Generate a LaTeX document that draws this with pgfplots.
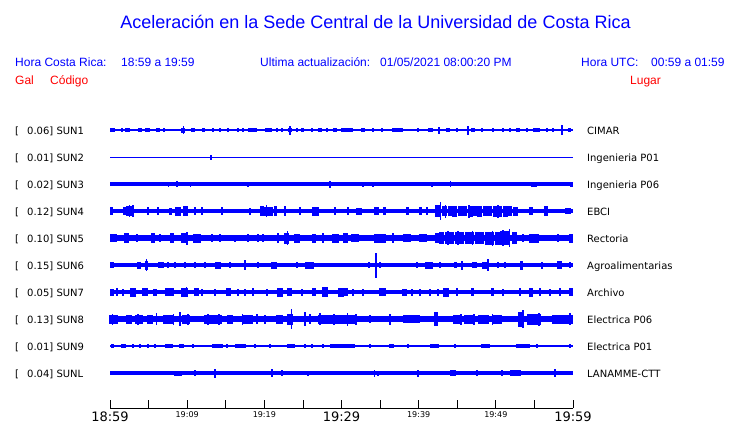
\documentclass[border=0pt]{standalone}
\usepackage{pgfplots}
\pgfplotsset{compat=1.18}
\usepackage{pgfplotstable}
\usepackage{fontspec}
\setmainfont{Liberation Sans}
\newfontfamily\dv{DejaVu Sans}
\definecolor{pblue}{RGB}{0,0,255}
\definecolor{pred}{RGB}{255,0,0}

\pgfdeclareplotmark{burst}{%
  \pgfpathrectangle{\pgfpoint{-\hw}{-\ampl}}{\pgfpoint{2*\hw}{2*\ampl}}%
  \pgfusepath{fill}}

% x = minutes after 18:59, a = half amplitude (px), w = width (px)
\pgfplotstableread{
x a w
0.3 1.8 5
1.6 1.8 2
2.3 2.2 5
3.9 1.8 4
4.8 1.8 5
6.2 2.2 4
7.0 1.8 2
9.5 2.5 4
9.5 4 1.5
10.8 2.2 4
12.1 2.2 3
13.3 1.8 2
14.3 1.8 2
15.3 1.8 2
16.6 1.8 2
17.2 1.8 2
18.5 2.2 9
20.5 2.2 7
21.6 1.8 2
22.3 1.8 2
23.3 2.2 4
23.3 4.5 1.5
24.2 1.8 2
25.0 1.8 3
26.2 1.8 2
27.2 2.2 4
28.1 1.8 2
29.2 2.2 4
30.1 1.8 2
30.8 2.2 11
32.8 2.2 4
34.1 1.8 2
35.2 1.8 2
37.2 2.2 11
39.9 1.8 2
41.5 1.8 5
42.6 3.5 2
43.8 2.2 4
45.0 1.8 2
46.4 4.5 1.5
47.0 2.2 4
48.2 2.2 2
49.6 1.8 2
50.9 1.8 2
51.8 1.8 2
52.9 2.2 4
54.0 1.8 2
55.3 2.2 7
56.6 1.8 2
57.4 1.8 2
58.6 5.3 1.5
59.6 2.2 3
}\tA
\pgfplotstableread{
x a w
13.1 2.5 1.5
}\tB
\pgfplotstableread{
x a w
7.6 2.5 1.5
8.7 3 1.5
10.4 2.5 1.5
17.9 2.5 1.5
28.5 3.5 1.5
32.8 2.5 1.5
34.1 2.5 1.5
41.7 2.5 1.5
44.1 3 1.5
55.0 2.5 6
59.8 2.5 3
}\tC
\pgfplotstableread{
x a w
0.2 4 3
1.9 4 4
2.5 6 1.5
2.6 5 8
3.0 6 1.5
4.9 4 2
6.2 4 2
7.9 3.5 3
8.8 4.5 6
9.8 5 5
11.0 4 2
11.9 4 2
14.5 4 2
18.1 3.5 2
19.7 5 4
20.3 6 1.5
20.5 4.5 10
21.4 5 3
22.7 5 2
24.6 4 2
26.6 4.5 7
29.2 4 2
30.8 4 2
32.3 3.5 6
34.6 4 5
35.6 4 3
38.6 4 3
40.2 4 3
41.1 4 2
42.4 6 5
42.8 8.7 1.5
43.4 5 5
43.5 6.5 1.5
44.1 5 5
44.7 5.5 5
45.4 5 5
46.0 5 5
46.7 5.5 5
46.5 6.5 1.5
47.3 5 5
47.9 5.5 5
48.6 5 5
49.2 5 5
49.9 5.5 5
50.5 5.5 5
50.3 6.5 1.5
51.2 5.5 5
51.8 5 5
52.5 4.5 5
54.6 4 4
56.5 5 4
59.3 3 6
}\tD
\pgfplotstableread{
x a w
0.5 4 7
2.2 5 5
3.5 4 2
5.6 5 4
6.5 4 2
8.0 5 4
9.7 5 7
10.0 6.5 1.5
11.3 4.5 8
13.2 4 2
14.3 4 2
16.2 3.5 2
17.9 4 2
19.2 4 2
19.8 4 2
21.8 5 2
22.9 5.5 5
23.0 7 1.5
24.2 4.5 6
26.4 4.5 4
27.6 5 2
29.2 4.5 7
30.5 5 5
31.8 4 8
35.0 4.5 12
36.7 5 2
38.5 4 8
40.6 4 8
42.4 5 5
43.0 6 5
43.7 6 5
43.8 7 1.5
44.3 6 5
45.0 6 5
45.1 7 1.5
45.6 6 5
46.3 6 5
46.9 6 5
47.0 7 1.5
47.6 6 5
48.2 6 5
48.9 6.5 5
49.5 6.5 5
49.6 7.5 1.5
50.2 6.5 5
50.8 7 5
50.9 8 1.5
51.4 7 5
51.8 9 1.5
52.4 6 5
53.5 4 2
55.0 4.5 10
58.1 4 2
59.8 4.5 4
}\tE
\pgfplotstableread{
x a w
0.3 3 4
3.7 3.5 4
4.7 4.5 3
4.7 6 1.5
6.6 3 6
7.5 3 2
8.4 3 2
9.7 3 2
11.0 3 2
12.3 3 2
14.0 3.5 6
15.6 3 2
17.5 5 1.5
19.2 3 2
21.2 3.5 6
24.2 3 2
25.9 3.5 9
33.6 3 2
34.5 12.5 1.5
35.0 3 2
39.8 3 2
41.4 3.5 8
42.8 3 2
44.8 3 3
45.6 4.5 1.5
47.3 3 5
48.6 3.5 6
49.0 6 1.5
50.3 3 2
51.2 3 2
53.3 4.5 3
56.0 3.5 2
58.3 4 5
59.6 3 2
}\tF
\pgfplotstableread{
x a w
0.3 3.5 4
0.9 4 2
1.7 3.5 2
3.0 4.5 6
4.5 4 6
5.8 3.5 4
7.7 4 9
9.7 4.5 7
9.9 5 1.5
11.2 4 5
11.9 3.5 2
13.6 3.5 2
15.4 4 5
16.6 3.5 2
17.5 3.5 2
18.5 4 2
20.3 3.5 2
22.0 4.5 6
23.3 4 5
24.9 3.5 2
26.4 4 4
27.9 5 6
29.9 4.5 6
30.3 4 8
31.5 3.5 2
32.8 3.5 2
35.3 4 7
38.2 3.5 5
39.1 3.5 2
40.2 3.5 2
41.5 3.5 2
42.5 3.5 2
43.5 4.5 6
45.0 4 2
47.0 4 3
49.6 4 3
50.9 3.5 2
53.1 4 2
54.6 4.5 4
55.7 4 2
57.0 3.5 2
58.3 4 2
59.8 4 4
}\tG
\pgfplotstableread{
x a w
0.5 4.5 9
0.3 5.5 1.5
2.5 4.5 6
3.8 4.5 8
3.6 5.5 1.5
5.2 4.5 6
6.0 6 1.5
7.5 4.5 10
8.2 5.5 1.5
9.1 7 1.5
9.9 4.5 8
10.1 5.5 1.5
13.4 4.5 18
12.7 5.5 1.5
14.1 5.5 1.5
15.5 4.5 6
17.8 4.5 11
17.2 5.5 1.5
19.0 5 2
20.1 4.5 2
22.0 4.5 7
23.3 5.5 6
23.5 10 1.5
25.3 7 1.5
25.9 5 2
28.3 4.5 21
27.2 6 1.5
29.0 5.5 1.5
30.8 4.5 18
30.8 6.5 1.5
31.9 5.5 1.5
33.7 4 2
36.3 5.5 2
39.1 4 17
42.3 7 4
45.0 4.5 8
45.5 5.5 1.5
46.5 4.5 10
47.2 5.5 1.5
48.4 4.5 11
50.2 4.5 10
49.6 5.5 1.5
53.3 7.5 6
53.5 9 1.5
54.9 5.5 14
55.6 6.5 1.5
58.7 4.5 21
59.6 6 1.5
}\tH
\pgfplotstableread{
x a w
0.3 1.8 3
1.7 2 5
3.0 1.8 2
3.9 1.8 2
4.9 1.8 2
5.8 1.8 2
7.7 2 8
9.3 2 5
10.8 1.8 2
13.9 2 11
15.2 1.8 2
16.9 2 11
18.8 1.8 2
20.7 1.8 2
23.5 2 8
25.3 1.8 2
26.2 1.8 2
27.6 1.8 2
29.2 2 11
30.8 2 14
33.7 1.8 2
36.5 2 5
38.6 1.8 2
42.0 2 9
44.7 1.8 2
48.6 2 9
53.5 2 14
55.3 1.8 2
59.6 1.8 2
}\tI
\pgfplotstableread{
x a w
8.8 2.5 8
11.0 3 2
13.6 4.5 1.5
21.0 4 1.5
22.3 3 1.5
25.7 2.5 2
34.3 3.5 1.5
34.7 2.5 2
39.9 3.5 2
44.4 3 6
47.6 3 2
50.8 3 2
52.5 3 11
57.7 4 1.5
}\tL

\newcommand{\trace}[3]{%
  \addplot[pblue, line width=#3, line cap=butt] coordinates {(0,#2) (60,#2)};
  \addplot[pblue, only marks, mark=burst,
    visualization depends on={\thisrow{a} \as \ampl},
    visualization depends on={\thisrow{w}/2 \as \hw}]
    table[x=x, y expr=#2] {#1};
}

\begin{document}
\begin{tikzpicture}[x=1pt,y=1pt]
\useasboundingbox (0,0) rectangle (740,-423);
\begin{axis}[
  at={(110pt,-408pt)}, anchor=south west,
  scale only axis, width=463pt, height=308pt,
  xmin=0, xmax=60, ymin=-408, ymax=-100,
  axis x line*=bottom, axis y line=none,
  axis line style={black, line width=0.8pt},
  xtick={0,5,...,60},
  xticklabels={{\fontsize{13}{13}\selectfont 18:59},{},{\fontsize{8}{8}\selectfont 19:09},{},{\fontsize{8}{8}\selectfont 19:19},{},{\fontsize{13}{13}\selectfont 19:29},{},{\fontsize{8}{8}\selectfont 19:39},{},{\fontsize{8}{8}\selectfont 19:49},{},{\fontsize{13}{13}\selectfont 19:59}},
  xticklabel style={font=\dv, anchor=north, inner sep=0pt, yshift=-3.5pt},
  tick align=inside, major tick length=8pt,
  tick style={black, line width=0.8pt},
  ytick=\empty,
]
\trace{\tA}{-130}{1.6pt}
\trace{\tB}{-157}{1pt}
\trace{\tC}{-184}{4pt}
\trace{\tD}{-211}{4.5pt}
\trace{\tE}{-238}{5.5pt}
\trace{\tF}{-265}{3.5pt}
\trace{\tG}{-292}{4pt}
\trace{\tH}{-319}{5.5pt}
\trace{\tI}{-346}{1.5pt}
\trace{\tL}{-373}{4.5pt}
\end{axis}

% title and header
\node[font=\fontsize{18}{20}\selectfont, text=pblue, anchor=base, inner sep=0pt] at (375.5,-28.5) {Aceleración en la Sede Central de la Universidad de Costa Rica};
\begin{scope}[every node/.style={font=\fontsize{12}{14}\selectfont, anchor=base west, inner sep=0pt}]
\node[text=pblue] at (15,-66) {Hora Costa Rica:};
\node[text=pblue] at (121,-66) {18:59 a 19:59};
\node[text=pblue] at (260,-66) {Ultima actualización:};
\node[text=pblue] at (380,-66) {01/05/2021 08:00:20 PM};
\node[text=pblue] at (581,-66) {Hora UTC:};
\node[text=pblue] at (651,-66) {00:59 a 01:59};
\node[text=pred] at (15,-84.5) {Gal};
\node[text=pred] at (50,-84.5) {Código};
\node[text=pred] at (630,-84.5) {Lugar};
\end{scope}

% station labels
\begin{scope}[every node/.style={font=\dv\fontsize{10}{12}\selectfont, anchor=base west, inner sep=0pt}]
\foreach \yy/\amp/\code/\place in {130/0.06/SUN1/CIMAR, 157/0.01/SUN2/Ingenieria P01, 184/0.02/SUN3/Ingenieria P06, 211/0.12/SUN4/EBCI, 238/0.10/SUN5/Rectoria, 265/0.15/SUN6/Agroalimentarias, 292/0.05/SUN7/Archivo, 319/0.13/SUN8/Electrica P06, 346/0.01/SUN9/Electrica P01, 373/0.04/SUNL/LANAMME-CTT}{
  \node at (15,-\yy-4) {[};
  \node at (27,-\yy-4) {\amp] \code};
  \node at (587,-\yy-4) {\place};
}
\end{scope}
\end{tikzpicture}
\end{document}
